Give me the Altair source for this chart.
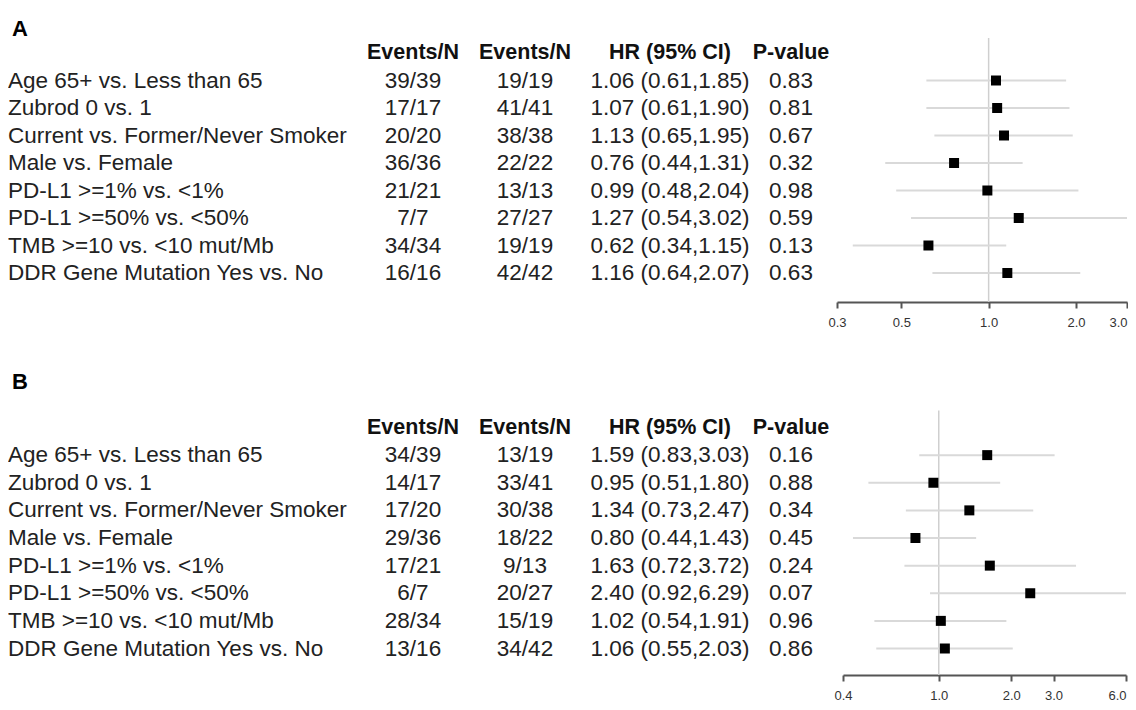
import altair as alt
import pandas as pd

labels = [
    "Age 65+ vs. Less than 65",
    "Zubrod 0 vs. 1",
    "Current vs. Former/Never Smoker",
    "Male vs. Female",
    "PD-L1 >=1% vs. <1%",
    "PD-L1 >=50% vs. <50%",
    "TMB >=10 vs. <10 mut/Mb",
    "DDR Gene Mutation Yes vs. No",
]
headers = ["Events/N", "Events/N", "HR (95% CI)", "P-value"]

a_ev1 = ["39/39", "17/17", "20/20", "36/36", "21/21", "7/7", "34/34", "16/16"]
a_ev2 = ["19/19", "41/41", "38/38", "22/22", "13/13", "27/27", "19/19", "42/42"]
a_hr = [1.06, 1.07, 1.13, 0.76, 0.99, 1.27, 0.62, 1.16]
a_lo = [0.61, 0.61, 0.65, 0.44, 0.48, 0.54, 0.34, 0.64]
a_hi = [1.85, 1.90, 1.95, 1.31, 2.04, 3.02, 1.15, 2.07]
a_p = [0.83, 0.81, 0.67, 0.32, 0.98, 0.59, 0.13, 0.63]
a_ticks = [0.3, 0.5, 1.0, 2.0, 3.0]

b_ev1 = ["34/39", "14/17", "17/20", "29/36", "17/21", "6/7", "28/34", "13/16"]
b_ev2 = ["13/19", "33/41", "30/38", "18/22", "9/13", "20/27", "15/19", "34/42"]
b_hr = [1.59, 0.95, 1.34, 0.80, 1.63, 2.40, 1.02, 1.06]
b_lo = [0.83, 0.51, 0.73, 0.44, 0.72, 0.92, 0.54, 0.55]
b_hi = [3.03, 1.80, 2.47, 1.43, 3.72, 6.29, 1.91, 2.03]
b_p = [0.16, 0.88, 0.34, 0.45, 0.24, 0.07, 0.96, 0.86]
b_ticks = [0.4, 1.0, 2.0, 3.0, 6.0]

FONT = "Liberation Sans"
TXT = "#222222"
W = 1120
COLX = [405, 517, 662, 783]


def panel(letter, ev1, ev2, hr, lo, hi, pv, ticks, xr, y0, y8, rule_top, height, letter_y):
    df = pd.DataFrame({
        "row": list(range(1, 9)),
        "label": labels,
        "ev1": ev1,
        "ev2": ev2,
        "hrtxt": [f"{h:.2f} ({l:.2f},{u:.2f})" for h, l, u in zip(hr, lo, hi)],
        "p": [f"{v:.2f}" for v in pv],
        "hr": hr,
        "lo": lo,
        "hi": hi,
    })
    yscale = alt.Scale(domain=[0, 8], range=[y0, y8], zero=False, nice=False)
    xscale = alt.Scale(type="log", domain=[ticks[0], ticks[-1]], range=xr, nice=False, clamp=True)
    last = ticks[-1] * 0.99
    xaxis = alt.Axis(values=ticks, format=".1f", title=None, grid=False,
                     labelFont=FONT, labelFontSize=13, labelColor="#333333",
                     labelAlign={"condition": {"test": f"datum.value >= {last}", "value": "right"},
                                 "value": "center"},
                     domainColor="#555555", domainWidth=2, tickColor="#555555",
                     tickWidth=2, tickSize=6, labelPadding=8, labelFlush=False,
                     labelOverlap=False)

    def X(f):
        return alt.X(f, scale=xscale, axis=xaxis)

    Y = alt.Y("row:Q", scale=yscale, axis=None)
    base = alt.Chart(df)
    ref = alt.Chart(pd.DataFrame({"v": [1.0]})).mark_rule(color="#cfcfcf", strokeWidth=1.5).encode(
        x=X("v:Q"), y=alt.value(rule_top), y2=alt.value(height))
    ci = base.mark_rule(color="#d9d9d9", strokeWidth=2).encode(x=X("lo:Q"), x2="hi:Q", y=Y)
    pts = base.mark_square(size=100, color="black", opacity=1).encode(x=X("hr:Q"), y=Y)

    layers = [ref, ci, pts]
    layers.append(base.mark_text(align="left", baseline="middle", font=FONT, fontSize=22.5, color=TXT)
                  .encode(x=alt.value(0), y=Y, text="label:N"))
    for cx, field in zip(COLX, ["ev1", "ev2", "hrtxt", "p"]):
        layers.append(base.mark_text(align="center", baseline="middle", font=FONT, fontSize=22.5, color=TXT)
                      .encode(x=alt.value(cx), y=Y, text=f"{field}:N"))
    for cx, h in zip(COLX, headers):
        layers.append(alt.Chart(pd.DataFrame({"row": [0], "h": [h]}))
                      .mark_text(align="center", baseline="middle", font=FONT, fontSize=21.5,
                                 fontWeight="bold", color="#111111")
                      .encode(x=alt.value(cx), y=Y, text="h:N"))
    layers.append(alt.Chart(pd.DataFrame({"t": [letter]}))
                  .mark_text(align="left", baseline="middle", font=FONT, fontSize=22,
                             fontWeight="bold", color="#000000")
                  .encode(x=alt.value(4), y=alt.value(letter_y), text="t:N"))
    return alt.layer(*layers).properties(width=W, height=height)


pa = panel("A", a_ev1, a_ev2, a_hr, a_lo, a_hi, a_p, a_ticks,
           [829, 1119], 45, 265, 30, 294, 21)
HB = 324
pb = panel("B", b_ev1, b_ev2, b_hr, b_lo, b_hi, b_p, b_ticks,
           [835, 1118], HB - 247.5, HB - 26.5, HB - 264.5, HB, HB - 293.5)

chart = alt.vconcat(pa, pb, spacing=22).properties(padding=0).configure_view(stroke=None)
chart.save("out.html", embed_options={"renderer": "svg", "actions": False})
